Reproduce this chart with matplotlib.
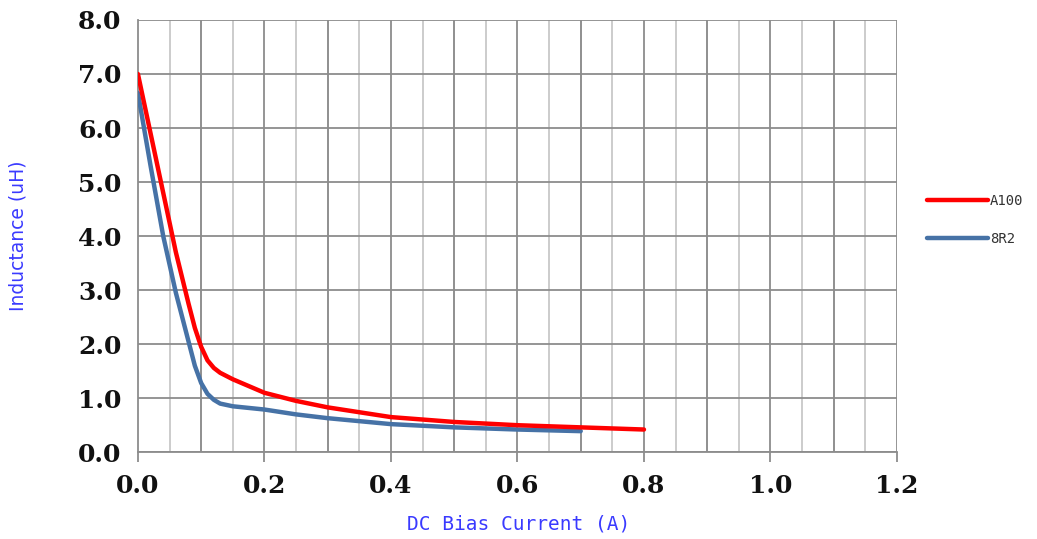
import numpy as np
import matplotlib
matplotlib.use("Agg")
import matplotlib.pyplot as plt
from matplotlib.ticker import MultipleLocator, FormatStrFormatter

# DC bias curves
x_a100 = [0, 0.02, 0.04, 0.06, 0.08, 0.09, 0.1, 0.11, 0.12, 0.13, 0.15, 0.2, 0.25, 0.3, 0.4, 0.5, 0.6, 0.7, 0.8]
y_a100 = [7.0, 5.9, 4.8, 3.7, 2.75, 2.3, 1.95, 1.7, 1.56, 1.47, 1.35, 1.1, 0.95, 0.83, 0.65, 0.56, 0.5, 0.46, 0.42]

x_8r2 = [0, 0.02, 0.04, 0.06, 0.08, 0.09, 0.1, 0.11, 0.12, 0.13, 0.15, 0.2, 0.25, 0.3, 0.4, 0.5, 0.6, 0.7]
y_8r2 = [6.65, 5.3, 4.0, 2.95, 2.05, 1.6, 1.28, 1.08, 0.97, 0.9, 0.85, 0.79, 0.7, 0.63, 0.52, 0.46, 0.42, 0.39]

fig = plt.figure(figsize=(10.37, 5.39), dpi=100)
ax = fig.add_axes([0.133, 0.161, 0.732, 0.802])

ax.plot(x_a100, y_a100, color='#ff0000', lw=3.2, label='A100', zorder=4, solid_capstyle='round', solid_joinstyle='round')
ax.plot(x_8r2, y_8r2, color='#4672a6', lw=3.2, label='8R2', zorder=3, solid_capstyle='round', solid_joinstyle='round')

ax.set_xlim(0, 1.2)
ax.set_ylim(0, 8)
ax.xaxis.set_major_locator(MultipleLocator(0.2))
ax.xaxis.set_minor_locator(MultipleLocator(0.05))
ax.yaxis.set_major_locator(MultipleLocator(1.0))
ax.xaxis.set_major_formatter(FormatStrFormatter('%.1f'))
ax.yaxis.set_major_formatter(FormatStrFormatter('%.1f'))

# grid: light every 0.05, darker every 0.1, horizontal every 1.0
ax.grid(which='minor', axis='x', color='#c8c8c8', lw=1.3)
for gx in np.arange(0.1, 1.25, 0.1):
    ax.axvline(gx, color='#8c8c8c', lw=1.3, zorder=1)
ax.grid(which='major', axis='y', color='#8c8c8c', lw=1.3)
ax.set_axisbelow(True)

for s in ['top', 'right']:
    ax.spines[s].set_visible(False)
ax.spines['left'].set_color('#8c8c8c')
ax.spines['bottom'].set_color('#8c8c8c')
ax.spines['left'].set_linewidth(1.3)
ax.spines['bottom'].set_linewidth(1.3)

ax.tick_params(axis='x', which='major', length=7, width=1.3, color='#8c8c8c', pad=9)
ax.tick_params(axis='x', which='minor', length=0)
ax.tick_params(axis='y', length=0, pad=12)
for lab in ax.get_xticklabels() + ax.get_yticklabels():
    lab.set_fontfamily('DejaVu Serif')
    lab.set_fontweight('bold')
    lab.set_fontsize(18)
    lab.set_color('#111111')

ax.set_xlabel('DC Bias Current (A)', family='DejaVu Sans Mono', fontsize=14, color='#3a3aff')
ax.set_ylabel('Inductance (uH)', family='DejaVu Sans', fontsize=13.5, color='#3a3aff')
ax.xaxis.set_label_coords(0.502, -0.143)
ax.yaxis.set_label_coords(-0.146, 0.5)

leg = ax.legend(loc='center left', bbox_to_anchor=(1.04, 0.538), frameon=False,
                borderpad=0, borderaxespad=0,
                handlelength=4.4, handletextpad=0.1, labelspacing=1.75,
                prop={'family': 'DejaVu Sans Mono', 'size': 10})
for t in leg.get_texts():
    t.set_color('#333333')

fig.savefig('out.png', dpi=100)
